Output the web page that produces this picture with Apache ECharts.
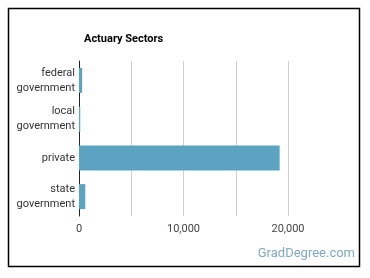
<!DOCTYPE html>
<html><head><meta charset="utf-8">
<script src="https://cdn.jsdelivr.net/npm/echarts@6/dist/echarts.min.js"></script>
<style>html,body{margin:0;padding:0;background:#fff}#c{width:370px;height:278px}</style>
</head><body><div id="c"></div>
<script>
const categories = ['federal\ngovernment', 'local\ngovernment', 'private', 'state\ngovernment'];
const employees = [300, 120, 19200, 600];
const xTicks = [0, 5000, 10000, 15000, 20000];
const chart = echarts.init(document.getElementById('c'), null, {renderer: 'canvas'});
chart.setOption({
  animation: false,
  backgroundColor: '#fff',
  title: {text: 'Actuary Sectors', left: 79, top: 29, textStyle: {fontFamily: 'Roboto', fontSize: 11, fontWeight: 'bold', color: '#000'}},
  grid: {left: 79, right: 82, top: 61, bottom: 62, containLabel: false},
  xAxis: {
    type: 'value', min: xTicks[0], max: xTicks[xTicks.length - 1], interval: 5000,
    axisLine: {show: false}, axisTick: {show: false},
    splitLine: {lineStyle: {color: '#d0d0d0', width: 1}},
    axisLabel: {fontFamily: 'Roboto', fontSize: 11, color: '#444', margin: 8,
      formatter: v => (v % 10000 === 0 ? v.toLocaleString('en-US') : '')}
  },
  yAxis: {
    type: 'category', data: categories, inverse: true,
    axisLine: {lineStyle: {color: '#222', width: 1}}, axisTick: {show: false},
    axisLabel: {fontFamily: 'Roboto', fontSize: 11, color: '#333', margin: 4, lineHeight: 15, align: 'right'}
  },
  series: [{type: 'bar', data: employees, barWidth: 25, itemStyle: {color: '#5ba3c1'}}],
  graphic: [
    {type: 'rect', shape: {x: 8.5, y: 8.5, width: 351, height: 258}, style: {fill: null, stroke: '#000', lineWidth: 1.5}, silent: true},
    {type: 'text', right: 15, top: 247, style: {text: 'GradDegree.com', fontFamily: 'Roboto', fontSize: 13, fill: '#7fa9c6'}}
  ]
});
</script></body></html>
